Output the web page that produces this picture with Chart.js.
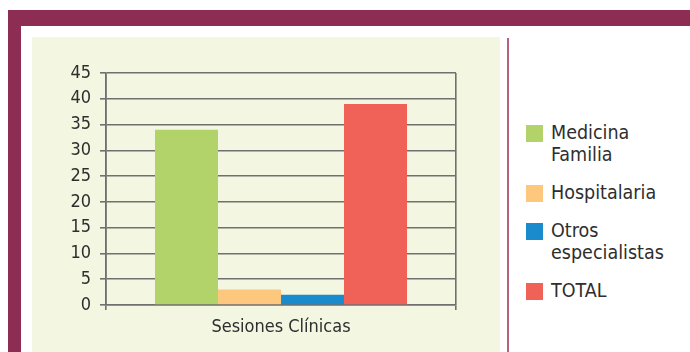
<!DOCTYPE html>
<html>
<head>
<meta charset="utf-8">
<script src="https://cdn.jsdelivr.net/npm/chart.js@4"></script>
<style>
  html, body { margin: 0; padding: 0; background: #fff; }
  body { width: 690px; height: 352px; position: relative; overflow: hidden;
         font-family: 'Liberation Sans Narrow', 'DejaVu Sans Condensed', sans-serif; }
  #topBand { position: absolute; left: 8px; top: 10px; width: 682px; height: 16px; background: #8d2d53; }
  #leftBand { position: absolute; left: 8px; top: 10px; width: 13px; height: 342px; background: #8d2d53; }
  #plotBg { position: absolute; left: 32px; top: 37px; width: 468px; height: 315px; background: #f3f6e1; }
  #divider { position: absolute; left: 507px; top: 38px; width: 1.5px; height: 314px; background: #b2627f; }
  #legend { position: absolute; left: 526px; top: 125px; }
  .item { display: flex; align-items: flex-start; margin-bottom: 19px; }
  .box { width: 17px; height: 17px; flex: none; }
  .txt { margin-left: 8px; width: 118px; font-size: 19.5px; line-height: 22px; color: #2e2e2e; margin-top: -3px; }
</style>
</head>
<body>
<div id="topBand"></div>
<div id="leftBand"></div>
<div id="plotBg"><canvas id="chart" width="468" height="315"></canvas></div>
<div id="divider"></div>
<div id="legend"></div>
<script>
// chart data
const categories = ['Sesiones Clínicas'];
const seriesNames = ['Medicina Familia', 'Hospitalaria', 'Otros especialistas', 'TOTAL'];
const seriesValues = [34, 3, 2, 39];
const seriesColors = ['#b1d36a', '#fdc87e', '#1a8bcd', '#f06157'];
const yMax = 45;
const yStep = 5;

const fontFamily = "'Liberation Sans Narrow', 'DejaVu Sans Condensed', sans-serif";

// build the legend as html from the chart's own labels
const htmlLegend = {
    id: 'htmlLegend',
    afterUpdate(chart) {
        const box = document.getElementById('legend');
        box.innerHTML = '';
        const items = chart.options.plugins.legend.labels.generateLabels(chart);
        items.forEach(item => {
            const row = document.createElement('div');
            row.className = 'item';
            const sw = document.createElement('div');
            sw.className = 'box';
            sw.style.background = item.fillStyle;
            const t = document.createElement('div');
            t.className = 'txt';
            t.textContent = item.text;
            row.appendChild(sw);
            row.appendChild(t);
            box.appendChild(row);
        });
    }
};

const datasets = seriesNames.map((name, i) => ({
    label: name,
    data: [seriesValues[i]],
    backgroundColor: seriesColors[i],
    borderWidth: 0,
    categoryPercentage: 0.72,
    barPercentage: 1.0
}));

const ctx = document.getElementById('chart').getContext('2d');
new Chart(ctx, {
    type: 'bar',
    data: { labels: categories, datasets: datasets },
    options: {
        responsive: false,
        animation: false,
        layout: { padding: { top: 36, right: 44, left: 0, bottom: 0 } },
        plugins: {
            legend: { display: false },
            tooltip: { enabled: false }
        },
        scales: {
            x: {
                afterFit: s => { s.height = 47; },
                grid: { color: '#707070', lineWidth: 1.6, tickLength: 5, offset: true },
                border: { color: '#707070', width: 1.6 },
                ticks: { color: '#2e2e2e', padding: 7, font: { family: fontFamily, size: 18 } }
            },
            y: {
                min: 0,
                max: yMax,
                afterFit: s => { s.width = 74; },
                grid: { color: '#707070', lineWidth: 1.6, tickLength: 6 },
                border: { color: '#707070', width: 1.6 },
                ticks: { stepSize: yStep, color: '#2e2e2e', padding: 9, font: { family: fontFamily, size: 18 } }
            }
        }
    },
    plugins: [htmlLegend]
});
</script>
</body>
</html>
